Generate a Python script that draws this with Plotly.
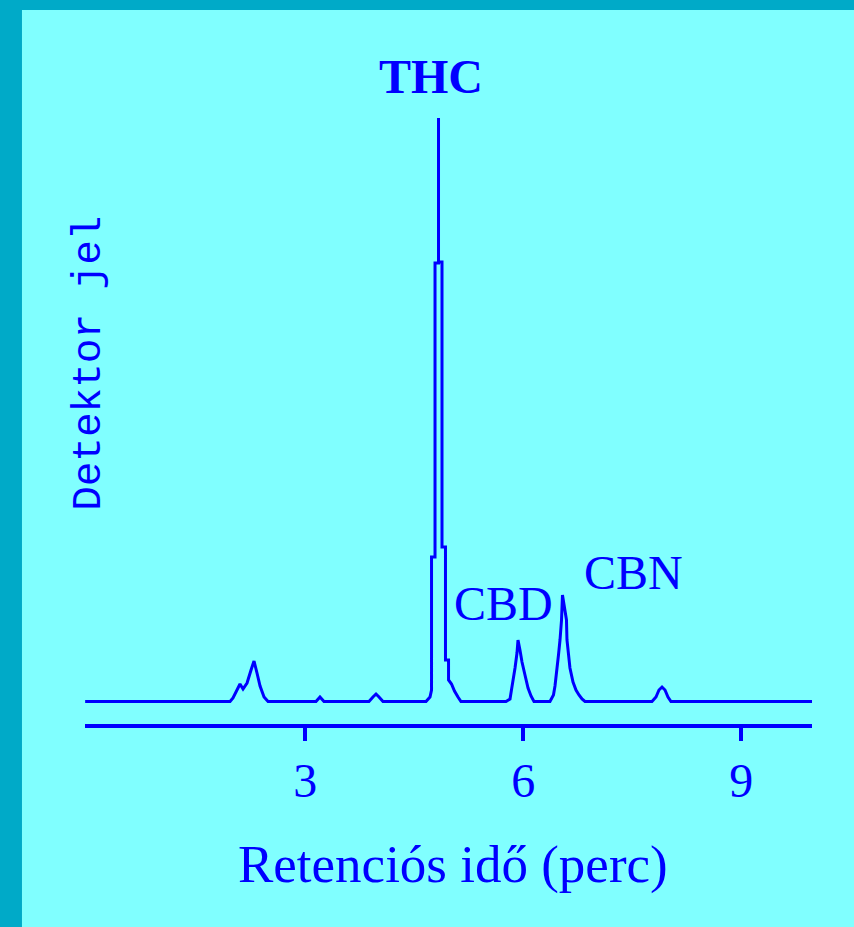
import plotly.graph_objects as go

# Retention time (min) and detector signal (arbitrary units)
time_min = [
    -0.03, 1.964, 2.005, 2.060, 2.101, 2.143, 2.198, 2.253, 2.294, 2.335, 2.377, 2.432, 2.487,
    3.147, 3.202, 3.257,
    3.876, 3.931, 3.973, 4.014, 4.069,
    4.661, 4.716, 4.737, 4.737, 4.785, 4.785, 4.833, 4.833, 4.833, 4.881, 4.881, 4.929, 4.929,
    4.971, 4.971, 5.012, 5.053, 5.101, 5.142,
    5.762, 5.817, 5.837, 5.858, 5.886, 5.913, 5.927, 5.954, 5.982, 6.023, 6.065, 6.106, 6.147,
    6.367, 6.415, 6.436, 6.464, 6.484, 6.505, 6.526, 6.539, 6.594, 6.601, 6.629, 6.642, 6.684,
    6.725, 6.766, 6.808, 6.849,
    7.771, 7.826, 7.867, 7.909, 7.950, 7.991, 8.032,
    9.973,
]
signal = [
    0, 0, 3.5, 11.5, 17.5, 12.5, 18.5, 31.5, 40.5, 28.5, 15.5, 4.5, 0,
    0, 4.5, 0,
    0, 4.5, 7.5, 4.5, 0,
    0, 4.5, 11.5, 144.5, 144.5, 438.5, 438.5, 583.5, 439.5, 439.5, 154.5, 154.5, 41.5,
    41.5, 21.5, 17.5, 10.5, 4.5, 0,
    0, 2.5, 11.5, 19.5, 33.5, 48.5, 61.5, 51.5, 39.5, 26.5, 13.5, 5.5, 0,
    0, 6.5, 15.5, 31.5, 46.5, 61.5, 81.5, 106.5, 81.5, 61.5, 44.5, 33.5, 19.5,
    11.5, 6.5, 2.5, 0,
    0, 4.5, 11.5, 14.5, 11.5, 4.5, 0,
    0,
]

tick_values = [3, 6, 9]
tick_labels = ["3", "6", "9"]

peak_names = ["THC", "CBD", "CBN"]
peak_label_x = [4.73, 5.727, 7.516]
peak_label_y = [625.5, 98.5, 129.5]
peak_label_bold = [True, False, False]

x_title = "Retenciós idő (perc)"
y_title = "Detektor jel"

BLUE = "#0000FF"
BG = "#80FFFF"
BORDER = "#00AAC8"
SERIF = "Liberation Serif, Times New Roman, serif"

fig = go.Figure()
fig.add_trace(go.Scatter(
    x=time_min, y=signal, mode="lines",
    line=dict(color=BLUE, width=3, shape="linear"),
    hoverinfo="skip", showlegend=False, cliponaxis=False,
))

for name, px_, py_, bold in zip(peak_names, peak_label_x, peak_label_y, peak_label_bold):
    fig.add_annotation(
        x=px_, y=py_, xref="x", yref="y", text=f"<b>{name}</b>" if bold else name,
        showarrow=False, xanchor="center", yanchor="middle",
        font=dict(family=SERIF, size=48, color=BLUE),
    )

fig.add_annotation(
    x=0.506, y=-0.205, xref="paper", yref="paper", text=x_title, showarrow=False,
    xanchor="center", yanchor="middle", font=dict(family=SERIF, size=53, color=BLUE),
)
fig.add_annotation(
    x=0.0055, y=0.528, xref="paper", yref="paper", text=y_title, showarrow=False,
    textangle=-90, xanchor="center", yanchor="middle",
    font=dict(family="Liberation Mono, Courier New, monospace", size=41, color=BLUE),
)

# page background: teal border and light cyan field
fig.add_shape(type="rect", xref="paper", yref="paper",
              x0=-0.0867, x1=1.06, y0=-0.30, y1=1.0439,
              fillcolor=BG, line=dict(width=0), layer="below")

fig.update_layout(
    width=854, height=927,
    margin=dict(l=85, r=42, t=40, b=203, pad=0),
    paper_bgcolor=BORDER, plot_bgcolor=BG,
    showlegend=False,
    xaxis=dict(
        range=[-0.032, 9.973], showgrid=False, zeroline=False,
        showline=True, linecolor=BLUE, linewidth=4,
        ticks="outside", ticklen=13, tickwidth=4, tickcolor=BLUE,
        tickvals=tick_values, ticktext=tick_labels, ticklabelstandoff=-2,
        tickfont=dict(family=SERIF, size=48, color=BLUE),
    ),
    yaxis=dict(
        range=[-22.5, 661.5], showgrid=False, zeroline=False, showline=False,
        showticklabels=False, ticks="",
    ),
)

fig.write_html("out.html", config={"displayModeBar": False},
               post_script="document.body.style.margin='0px';")
